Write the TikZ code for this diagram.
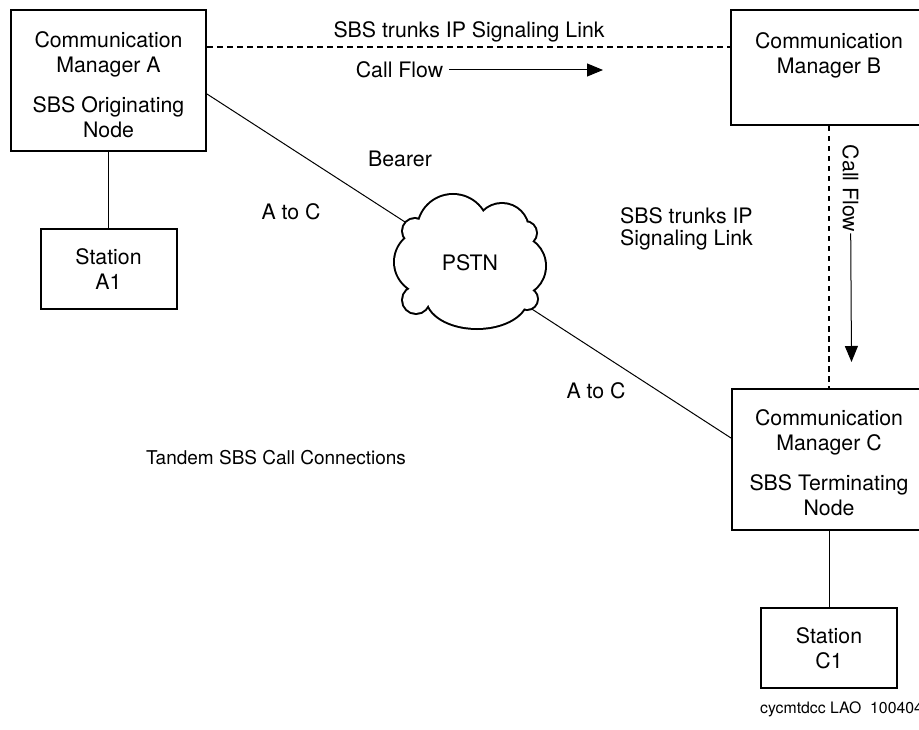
\documentclass[tikz,border=0pt]{standalone}
\usepackage{fontspec}
\setmainfont{TeX Gyre Heros}
\usetikzlibrary{arrows.meta,calc}
\begin{document}
\begin{tikzpicture}[x=1pt,y=1pt,
  box/.style={draw, line width=2pt, inner sep=0pt, align=center,
    font=\fontsize{21.3}{25.5}\selectfont},
  txt/.style={inner sep=0pt, align=center, font=\fontsize{21.3}{25.5}\selectfont},
  conn/.style={line width=1pt},
  dline/.style={line width=2pt, dash pattern=on 5.5pt off 4.5pt},
  arr/.style={line width=1pt, -{Triangle[length=16pt,width=13pt]}},
  cloudshape/.style={insert path={
    (453,-230) circle[radius=35pt]
    (502,-230) circle[radius=26pt]
    (525,-233) circle[radius=11pt]
    (515,-266) circle[radius=30pt]
    (527,-299) circle[radius=10pt]
    (477,-298) ellipse[x radius=50pt, y radius=30pt]
    (416,-300) circle[radius=13pt]
    (428,-262) ellipse[x radius=33pt, y radius=32pt]
    (415,-231) circle[radius=12pt]
    (470,-262) ellipse[x radius=55pt, y radius=40pt]}}
]
\useasboundingbox (0,0) rectangle (919,-730);
\fill[white] (0,0) rectangle (919,-730);

% boxes
\node[box, minimum width=195pt, minimum height=141pt] (A) at (108.5,-80.5) {};
\node[txt] (At) at (108.5,-84.7) {Communication\\Manager A\\[14pt]SBS Originating\\Node};
\node[box, minimum width=196pt, minimum height=115pt] (B) at (829,-67.5) {};
\node[txt] (Bt) at (829,-55.4) {Communication\\Manager B};
\node[box, minimum width=194pt, minimum height=141pt] (C) at (829,-459.5) {};
\node[txt] (Ct) at (829,-462.7) {Communication\\Manager C\\[14pt]SBS Terminating\\Node};
\node[box, minimum width=136pt, minimum height=80pt] (A1) at (108.5,-269) {Station\\A1};
\node[box, minimum width=136pt, minimum height=80pt] (C1) at (829,-648) {Station\\C1};

% solid connectors
\draw[conn] (A) -- (A1);
\draw[conn] (C) -- (C1);

% signaling links
\draw[dline] ([yshift=33.5pt]A.east) -- ([yshift=20.5pt]B.west);
\draw[dline] (B.south) -- (C.north);

% bearer lines to the cloud
\coordinate (cl) at (470,-264);
\draw[conn] ([yshift=-13.5pt]A.east) -- (cl);
\draw[conn] ([yshift=-5pt]cl) -- ([yshift=21.5pt]C.west);

% cloud
\path[draw=black, line width=4pt, cloudshape];
\path[fill=white, cloudshape];
\node[txt] (pstn) at (470,-262.5) {PSTN};

% labels
\node[txt, anchor=base] (sig1) at (469,-37.5) {SBS trunks IP Signaling Link};
\node[txt] (cfh) at (399.5,-70) {Call Flow};
\coordinate (cfhend) at (603,-70);
\draw[arr] ([xshift=6pt]cfh.east) -- (cfhend);

\node[txt, rotate=-90] (cfv) at (850.7,-188.5) {Call Flow};
\coordinate (cfvend) at (851.5,-362);
\draw[arr] ([yshift=-1pt]cfv.east) -- (cfvend);

\node[txt, anchor=base] (bearer) at (400,-167) {Bearer};
\node[txt, anchor=base] (atc1) at (291,-220) {A to C};
\node[txt, anchor=base west, align=left, font=\fontsize{21.3}{21.7}\selectfont] (sig2) at (620,-245.3) {SBS trunks IP\\Signaling Link};
\node[txt, anchor=base] (atc2) at (596,-398) {A to C};
\node[txt, anchor=base, font=\fontsize{19}{22}\selectfont] (tandem) at (276,-464) {Tandem SBS Call Connections};
\node[inner sep=0pt, anchor=base west, font=\fontsize{15.8}{18}\selectfont] (code) at (760,-713) {cycmtdcc LAO\ \ 100404};
\end{tikzpicture}
\end{document}
